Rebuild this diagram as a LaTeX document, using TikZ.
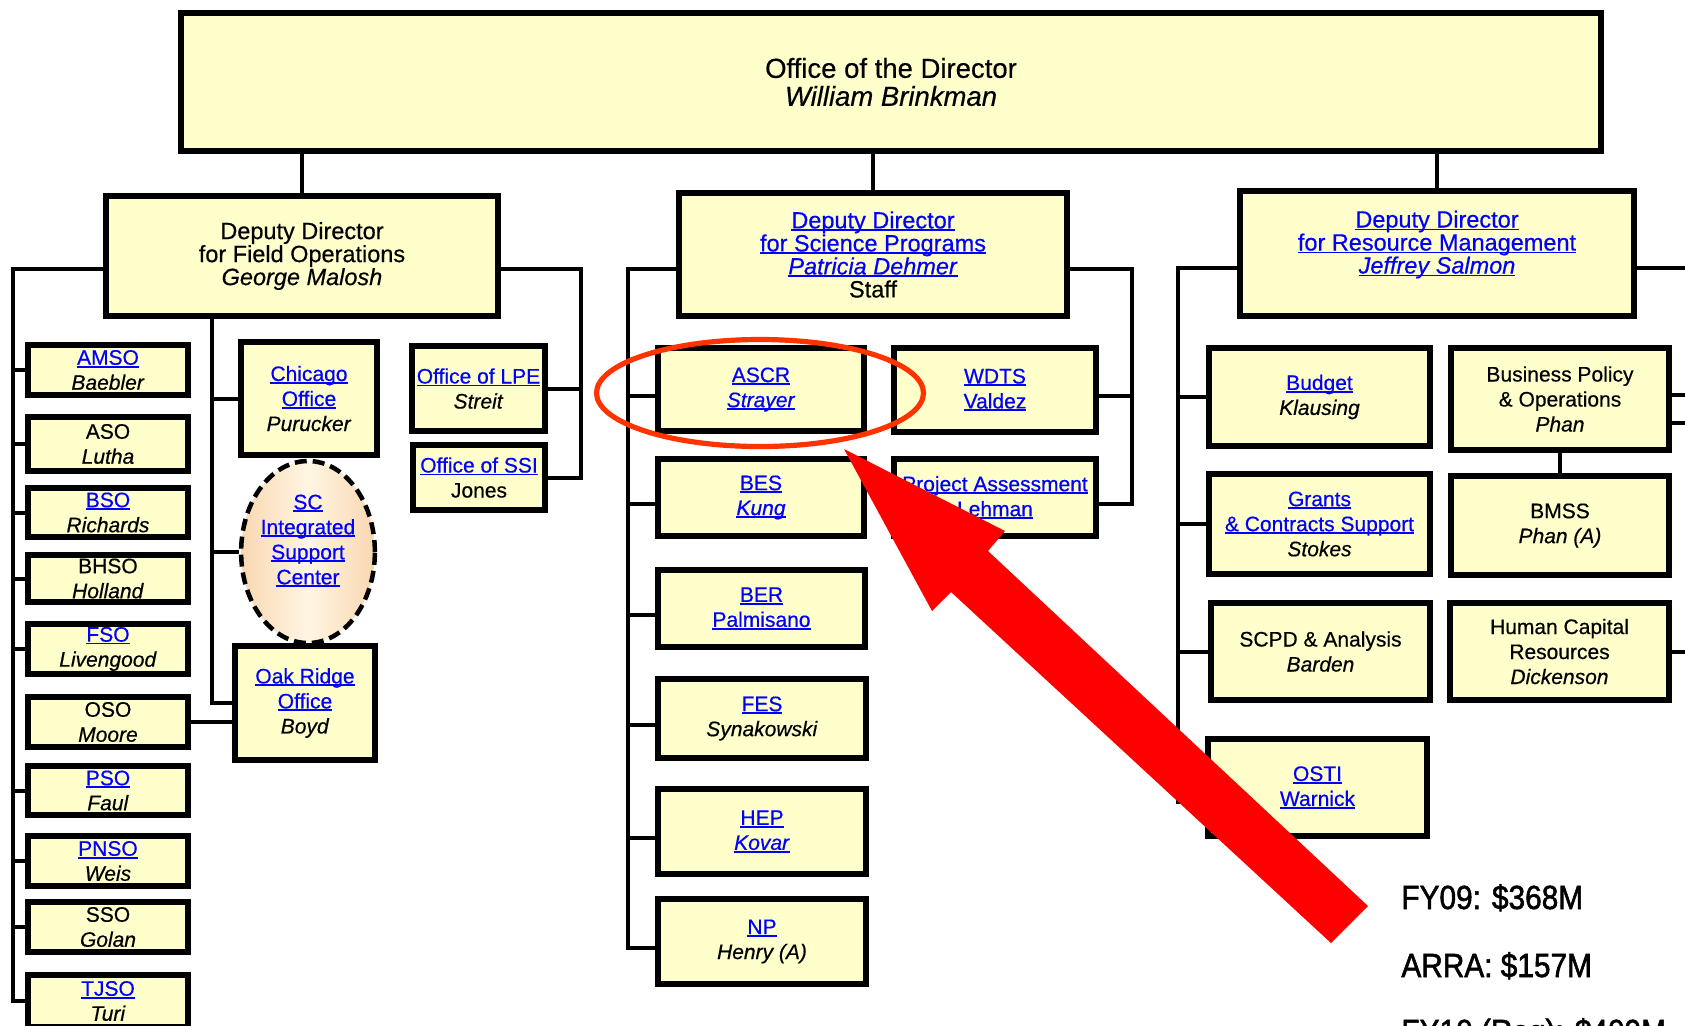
\documentclass[tikz,border=0pt]{standalone}
\usepackage{fontspec}
\setmainfont[FakeBold=0.5]{Liberation Sans}
\newfontfamily\fyfont[FakeStretch=0.89, FakeBold=1.6]{Liberation Sans}
\usetikzlibrary{shapes.geometric}
\definecolor{boxfill}{HTML}{FFFFCC}
\definecolor{lnkblue}{HTML}{0000FF}
\definecolor{hlred}{HTML}{FF3300}
\definecolor{arrowred}{HTML}{FF0000}
\definecolor{iscouter}{HTML}{F9D7B2}
\definecolor{iscinner}{HTML}{FFF6E2}
\newcommand\lnk[1]{\textcolor{lnkblue}{\setbox0=\hbox{#1}\rlap{\rule[-1.4pt]{\wd0}{0.9pt}}\box0}}
\tikzset{
  bx/.style={draw=black, line width=3pt, fill=boxfill, inner sep=0pt, align=center,
    font=\fontsize{10.5pt}{12.5pt}\selectfont},
  ddbox/.style={bx, font=\fontsize{11.75pt}{11.5pt}\selectfont},
  sz/.style 2 args={minimum width=#1*0.5pt-3pt, minimum height=#2*0.5pt-3pt},
  wire/.style={draw=black, line width=2pt},
  fytext/.style={anchor=base west, inner sep=0pt, font=\fyfont\fontsize{16.75pt}{20pt}\selectfont}
}
\begin{document}
\begin{tikzpicture}[x=0.5pt, y=-0.5pt]
\useasboundingbox (0,0) rectangle (1685,1025);
\clip (0,0) rectangle (1685,1025);

% top
\node[bx, font=\fontsize{13.75pt}{14pt}\selectfont, sz={1426}{144}] (top) at (891,82)
  {Office of the Director\\\textit{William Brinkman}};

% deputies
\node[ddbox, sz={398}{126}] (ddf) at (302,256)
  {Deputy Director\\for Field Operations\\\textit{George Malosh}};
\node[ddbox, sz={394}{129}] (dds) at (873,254.5)
  {\lnk{Deputy Director}\\\lnk{for Science Programs}\\\lnk{\textit{Patricia Dehmer}}\\Staff};
\node[ddbox, sz={400}{131}] (ddr) at (1437,253.5)
  {\lnk{Deputy Director}\\\lnk{for Resource Management}\\\lnk{\textit{Jeffrey Salmon}}\\\mbox{}};

% field operations - left column
\node[bx, sz={166}{56}] (amso) at (108,370) {\lnk{AMSO}\\\textit{Baebler}};
\node[bx, sz={166}{60}] (aso) at (108,444) {ASO\\\textit{Lutha}};
\node[bx, sz={166}{55}] (bso) at (108,512.5) {\lnk{BSO}\\\textit{Richards}};
\node[bx, sz={166}{53}] (bhso) at (108,578.5) {BHSO\\\textit{Holland}};
\node[bx, sz={166}{56}] (fso) at (108,649) {\lnk{FSO}\\\textit{Livengood}};
\node[bx, sz={166}{56}] (oso) at (108,722) {OSO\\\textit{Moore}};
\node[bx, sz={166}{55}] (pso) at (108,790.5) {\lnk{PSO}\\\textit{Faul}};
\node[bx, sz={166}{56}] (pnso) at (108,861) {\lnk{PNSO}\\\textit{Weis}};
\node[bx, sz={166}{56}] (sso) at (108,927) {SSO\\\textit{Golan}};
\node[bx, sz={166}{58}] (tjso) at (108,1001) {\lnk{TJSO}\\\textit{Turi}};

% field operations - middle
\node[bx, sz={142}{119}] (chi) at (309,398.5) {\lnk{Chicago}\\\lnk{Office}\\\textit{Purucker}};
\node[ellipse, draw=black, line width=2.25pt, dash pattern=on 6pt off 3pt,
  left color=iscouter, right color=iscouter, middle color=iscinner,
  inner sep=0pt, align=center, font=\fontsize{10.5pt}{12.5pt}\selectfont,
  minimum width=62pt, minimum height=91pt] (isc) at (308,552)
  {\lnk{SC}\\\lnk{Integrated}\\\lnk{Support}\\\lnk{Center}\\\mbox{}};
\node[bx, sz={146}{120}] (ork) at (305,703) {\lnk{Oak Ridge}\\\lnk{Office}\\\textit{Boyd}};

% field operations - right
\node[bx, sz={139}{91}] (lpe) at (478.5,388.5) {\lnk{Office of LPE}\\\textit{Streit}};
\node[bx, sz={138}{71}] (ssi) at (479,477.5) {\lnk{Office of SSI}\\Jones};

% science programs
\node[bx, sz={212}{89}] (ascr) at (761,389.5) {\lnk{ASCR}\\\lnk{\textit{Strayer}}};
\node[bx, sz={208}{90}] (wdts) at (995,390) {\lnk{WDTS}\\\lnk{Valdez}};
\node[bx, sz={212}{83}] (bes) at (761,497.5) {\lnk{BES}\\\lnk{\textit{Kung}}};
\node[bx, sz={208}{83}] (pa) at (995,497.5) {\lnk{Project Assessment}\\\lnk{Lehman}};
\node[bx, sz={213}{83}] (ber) at (761.5,608.5) {\lnk{BER}\\\lnk{Palmisano}};
\node[bx, sz={214}{85}] (fes) at (762,718.5) {\lnk{FES}\\\textit{Synakowski}};
\node[bx, sz={214}{91}] (hep) at (762,831.5) {\lnk{HEP}\\\lnk{\textit{Kovar}}};
\node[bx, sz={214}{91}] (np) at (762,941.5) {\lnk{NP}\\\textit{Henry (A)}};

% resource management
\node[bx, sz={227}{104}] (budget) at (1319.5,397) {\lnk{Budget}\\\textit{Klausing}};
\node[bx, sz={224}{108}] (bp) at (1560,399) {Business Policy\\\& Operations\\\textit{Phan}};
\node[bx, sz={227}{106}] (grants) at (1319.5,524) {\lnk{Grants}\\\lnk{\& Contracts Support}\\\textit{Stokes}};
\node[bx, sz={224}{105}] (bmss) at (1560,525.5) {BMSS\\\textit{Phan (A)}};
\node[bx, sz={225}{103}] (scpd) at (1320.5,651.5) {SCPD \& Analysis\\\textit{Barden}};
\node[bx, sz={225}{103}] (hcr) at (1559.5,651.5) {Human Capital\\Resources\\\textit{Dickenson}};
\node[bx, sz={225}{103}] (osti) at (1317.5,787.5) {\lnk{OSTI}\\\lnk{Warnick}};

% bus coordinates
\coordinate (fL) at (13,269);
\coordinate (fR) at (581,269);
\coordinate (fC) at (212,0);
\coordinate (sL) at (628,269);
\coordinate (sR) at (1132,269);
\coordinate (rL) at (1178,268);
\coordinate (rR) at (1700,268);

% wires: director to deputies
\draw[wire] (top.south -| ddf.north) -- (ddf.north);
\draw[wire] (top.south -| dds.north) -- (dds.north);
\draw[wire] (top.south -| ddr.north) -- (ddr.north);

% field ops wires
\draw[wire] (ddf.west |- fL) -- (fL) -- (fL |- tjso.west) -- (tjso.west);
\foreach \n in {amso,aso,bso,bhso,fso,pso,pnso,sso}
  \draw[wire] (fL |- \n.west) -- (\n.west);
\draw[wire] (ddf.east |- fR) -- (fR) -- (fR |- ssi.east) -- (ssi.east);
\draw[wire] (fR |- lpe.east) -- (lpe.east);
\draw[wire] (ddf.south -| fC) -- (fC |- ork.west) -- (ork.west);
\draw[wire] (fC |- chi.west) -- (chi.west);
\draw[wire] (fC |- isc.west) -- (isc.west);
\draw[wire] (oso.east) -- (oso.east -| ork.west);

% science wires
\draw[wire] (dds.west |- sL) -- (sL) -- ([yshift=-3pt]sL |- np.west) -- ([yshift=-3pt]np.west);
\foreach \n in {ascr,bes,ber,fes,hep}
  \draw[wire] ([yshift=-3pt]sL |- \n.west) -- ([yshift=-3pt]\n.west);
\draw[wire] (dds.east |- sR) -- (sR) -- ([yshift=-3pt]sR |- pa.east) -- ([yshift=-3pt]pa.east);
\draw[wire] ([yshift=-3pt]sR |- wdts.east) -- ([yshift=-3pt]wdts.east);

% resource wires
\draw[wire] (ddr.west |- rL) -- (rL) -- ([yshift=-7pt]rL |- osti.west) -- ([yshift=-7pt]osti.west);
\foreach \n in {budget,grants,scpd}
  \draw[wire] (rL |- \n.west) -- (\n.west);
\draw[wire] (ddr.east |- rR) -- (rR);
\draw[wire] ([yshift=2pt]bp.east) -- ([yshift=2pt]bp.east -| rR);
\draw[wire] ([yshift=-12pt]bp.east) -- ([yshift=-12pt]bp.east -| rR);
\draw[wire] (hcr.east) -- (hcr.east -| rR);
\draw[wire] (bp.south) -- (bmss.north);

% highlight ellipse
\node[ellipse, draw=hlred, line width=2.6pt, inner sep=0pt,
  minimum width=163.5pt, minimum height=53.5pt] (hl) at (760,393) {};

% big red arrow
\fill[arrowred] (844,449) -- (1005,531) -- (988,551) -- (1368,906)
  -- (1331,943) -- (951,592) -- (932,611) -- cycle;

% budget figures
\node[fytext] (fy09) at (1401,909) {FY09: \$368M};
\node[fytext] (arra) at (1401,977) {ARRA: \$157M};
\node[fytext] (fy10) at (1401,1043) {FY10 (Req): \$409M};
\end{tikzpicture}
\end{document}
